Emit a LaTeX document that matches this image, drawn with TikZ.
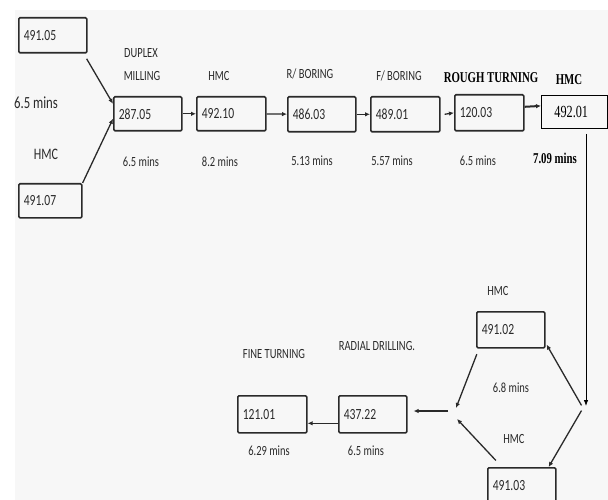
\documentclass[tikz,border=0pt]{standalone}
\usepackage{fontspec}
\setmainfont{Carlito}[FakeStretch=0.75]
\newfontfamily\timesfont{Liberation Serif}[FakeStretch=0.72]
\usetikzlibrary{arrows.meta}
\definecolor{bggray}{HTML}{F7F7F7}
\definecolor{ink}{HTML}{2A2A2A}

\begin{document}
\begin{tikzpicture}[x=1pt,y=-1pt,font=\fontsize{14}{16}\selectfont,text=ink,
  box/.style={draw=ink,line width=1.6pt,rounded corners=1.2pt,anchor=north west,
    align=left,inner xsep=5pt,inner ysep=0pt,text width=#1,
    font=\fontsize{15.5}{17}\selectfont},
  box/.default=58pt,
  plainbox/.style={draw=black,line width=0.8pt,anchor=north west,align=left,
    inner xsep=13pt,inner ysep=0pt,text width=40pt,
    font=\timesfont\fontsize{17}{19}\selectfont,text=black},
  serifbold/.style={font=\timesfont\fontsize{15}{17}\selectfont\bfseries,text=black},
  arr/.style={draw=ink,line width=1.3pt,-{Latex[length=5pt,width=4.5pt]}},
]

% Page and background
\useasboundingbox (0,0) rectangle (608,500);
\fill[bggray] (15,10) rectangle (608,500);

% Boxes, top row
\node[box,minimum height=35pt] (b49105) at (18,17) {491.05};
\node[box=53pt,minimum height=34pt] (b49107) at (18,183) {491.07};
\node[box,minimum height=34pt] (b28705) at (113,96) {287.05};
\node[box=59pt,minimum height=34pt] (b49210) at (196,96) {492.10};
\node[box,minimum height=35pt] (b48603) at (287,96) {486.03};
\node[box=59pt,minimum height=35pt] (b48901) at (370,96) {489.01};
\node[box=59pt,minimum height=36pt] (b12003) at (454,94) {120.03};
\node[plainbox,minimum height=33pt] (b49201) at (541,95) {492.01};

% Boxes, bottom row
\node[box,minimum height=36pt] (b49102) at (476,311) {491.02};
\node[box,minimum height=36pt] (b49103) at (487,467) {491.03};
\node[box,minimum height=37pt] (b43722) at (338,395) {437.22};
\node[box=59pt,minimum height=37pt] (b12101) at (237,395) {121.01};

% Operation labels
\node[font=\fontsize{17}{19}\selectfont] (tmin1) at (36,103) {6.5 mins};
\node[font=\fontsize{16}{18}\selectfont] (hmc1) at (46,154) {HMC};
\node (duplex) at (141,53) {DUPLEX};
\node (milling) at (142,76) {MILLING};
\node (hmc2) at (219,76) {HMC};
\node (rbore) at (310,74) {R/ BORING};
\node (fbore) at (399,76) {F/ BORING};
\node[serifbold] (rturn) at (491,78) {ROUGH TURNING};
\node[serifbold] (hmc3) at (569,80) {HMC};
\node (hmc4) at (498,291) {HMC};
\node (rdrill) at (377,346) {RADIAL DRILLING.};
\node (fturn) at (274,354) {FINE TURNING};
\node (hmc5) at (514,439) {HMC};

% Times
\node (tmin2) at (141,162) {6.5 mins};
\node (tmin3) at (220,162) {8.2 mins};
\node (tmin4) at (312,161) {5.13 mins};
\node (tmin5) at (392,161) {5.57 mins};
\node (tmin6) at (478,161) {6.5 mins};
\node[serifbold] (tmin7) at (555,158) {7.09 mins};
\node (tmin8) at (511,388) {6.8 mins};
\node (tmin9) at (269,451) {6.29 mins};
\node (tmin10) at (366,451) {6.5 mins};

% Junction points
\coordinate (rtip) at (586,406);
\coordinate (rv) at (583,408);
\coordinate (lvup) at (456,408);
\coordinate (lvdn) at (457,419);
\coordinate (lh) at (448,411);

% Top row flow
\draw[arr,shorten <=6pt] ([xshift=-4pt]b49105.south east) -- ([yshift=10pt]b28705.west);
\draw[arr] (b49107.north east) -- ([yshift=-5pt]b28705.west);
\draw[arr] (b28705) -- (b49210);
\draw[arr] (b49210) -- (b48603);
\draw[arr] (b48603) -- (b48901);
\draw[arr] ([xshift=4pt]b48901.east) -- (b12003.west);
\draw[arr,line width=2pt] ([yshift=6pt]b12003.east) -- ([yshift=6pt]b49201.west);

% Down to the HMC loop
\draw[draw=black,line width=0.8pt,-{Latex[length=6pt,width=4.5pt]},shorten <=5pt]
  (rtip |- b49201.south) -- (rtip);
\draw[arr,shorten <=3pt] (rv) -- ([xshift=1pt,yshift=4pt]b49102.south east);
\draw[arr,shorten <=3pt] (rv) -- ([xshift=-8pt]b49103.north east);
\draw[arr,shorten <=6pt] ([xshift=3pt]b49102.south west) -- (lvup);
\draw[arr,shorten <=9pt] ([xshift=15pt]b49103.north west) -- (lvdn);

% Bottom row flow
\draw[arr,line width=1.6pt,shorten >=6pt] (lh) -- (lh -| b43722.east);
\draw[arr] ([yshift=-9pt]b43722.west) -- ([yshift=-9pt]b12101.east);

\end{tikzpicture}
\end{document}
